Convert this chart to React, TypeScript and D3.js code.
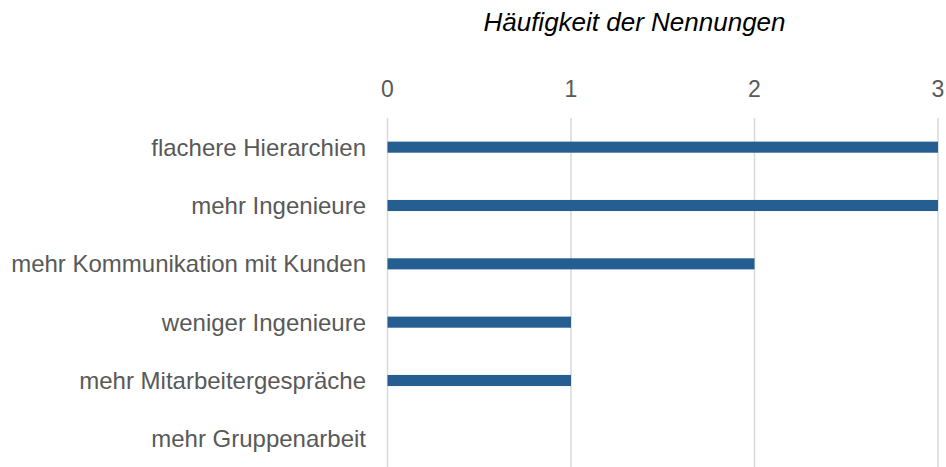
import React, { useEffect, useRef } from "react";
import * as d3 from "d3";

const categories = [
  "flachere Hierarchien",
  "mehr Ingenieure",
  "mehr Kommunikation mit Kunden",
  "weniger Ingenieure",
  "mehr Mitarbeitergespräche",
  "mehr Gruppenarbeit",
];
const counts = [3, 3, 2, 1, 1, 0];
const tickValues = [0, 1, 2, 3];
const axisTitle = "Häufigkeit der Nennungen";

const App: React.FC = () => {
  const svgRef = useRef<SVGSVGElement>(null);

  useEffect(() => {
    if (!svgRef.current) return;
    const svg = d3.select(svgRef.current);
    svg.selectAll("*").remove();

    const height = 467;
    const font = "'Liberation Sans', Arial, sans-serif";

    const x = d3.scaleLinear().domain([0, 3]).range([387.5, 938]);
    const y = d3
      .scaleBand<string>()
      .domain(categories)
      .range([118, 468])
      .paddingInner(0.81)
      .paddingOuter(0.405);

    // gridlines
    svg
      .append("g")
      .selectAll("line")
      .data(tickValues)
      .enter()
      .append("line")
      .attr("x1", (d) => x(d))
      .attr("x2", (d) => x(d))
      .attr("y1", 118)
      .attr("y2", height)
      .attr("stroke", "#d9d9d9")
      .attr("stroke-width", 1.5);

    // tick labels
    svg
      .append("g")
      .selectAll("text")
      .data(tickValues)
      .enter()
      .append("text")
      .attr("x", (d) => x(d))
      .attr("y", 97)
      .attr("text-anchor", "middle")
      .style("font-family", font)
      .style("font-size", "23px")
      .style("fill", "#595959")
      .text((d) => d);

    // bars
    svg
      .append("g")
      .selectAll("rect")
      .data(categories)
      .enter()
      .append("rect")
      .attr("x", x(0))
      .attr("y", (d) => y(d)!)
      .attr("width", (d, i) => x(counts[i]) - x(0))
      .attr("height", y.bandwidth())
      .attr("fill", "#255e91");

    // category labels
    svg
      .append("g")
      .selectAll("text")
      .data(categories)
      .enter()
      .append("text")
      .attr("x", 366)
      .attr("y", (d) => y(d)! + y.bandwidth() / 2 + 8.5)
      .attr("text-anchor", "end")
      .style("font-family", font)
      .style("font-size", "24px")
      .style("fill", "#595959")
      .text((d) => d);

    // axis title
    svg
      .append("text")
      .attr("x", 634.5)
      .attr("y", 31)
      .attr("text-anchor", "middle")
      .style("font-family", font)
      .style("font-size", "26px")
      .style("font-style", "italic")
      .style("fill", "#000000")
      .text(axisTitle);
  }, []);

  return (
    <svg
      ref={svgRef}
      width={946}
      height={467}
      style={{ position: "absolute", left: 0, top: 0, background: "#fff" }}
    />
  );
};

export default App;
